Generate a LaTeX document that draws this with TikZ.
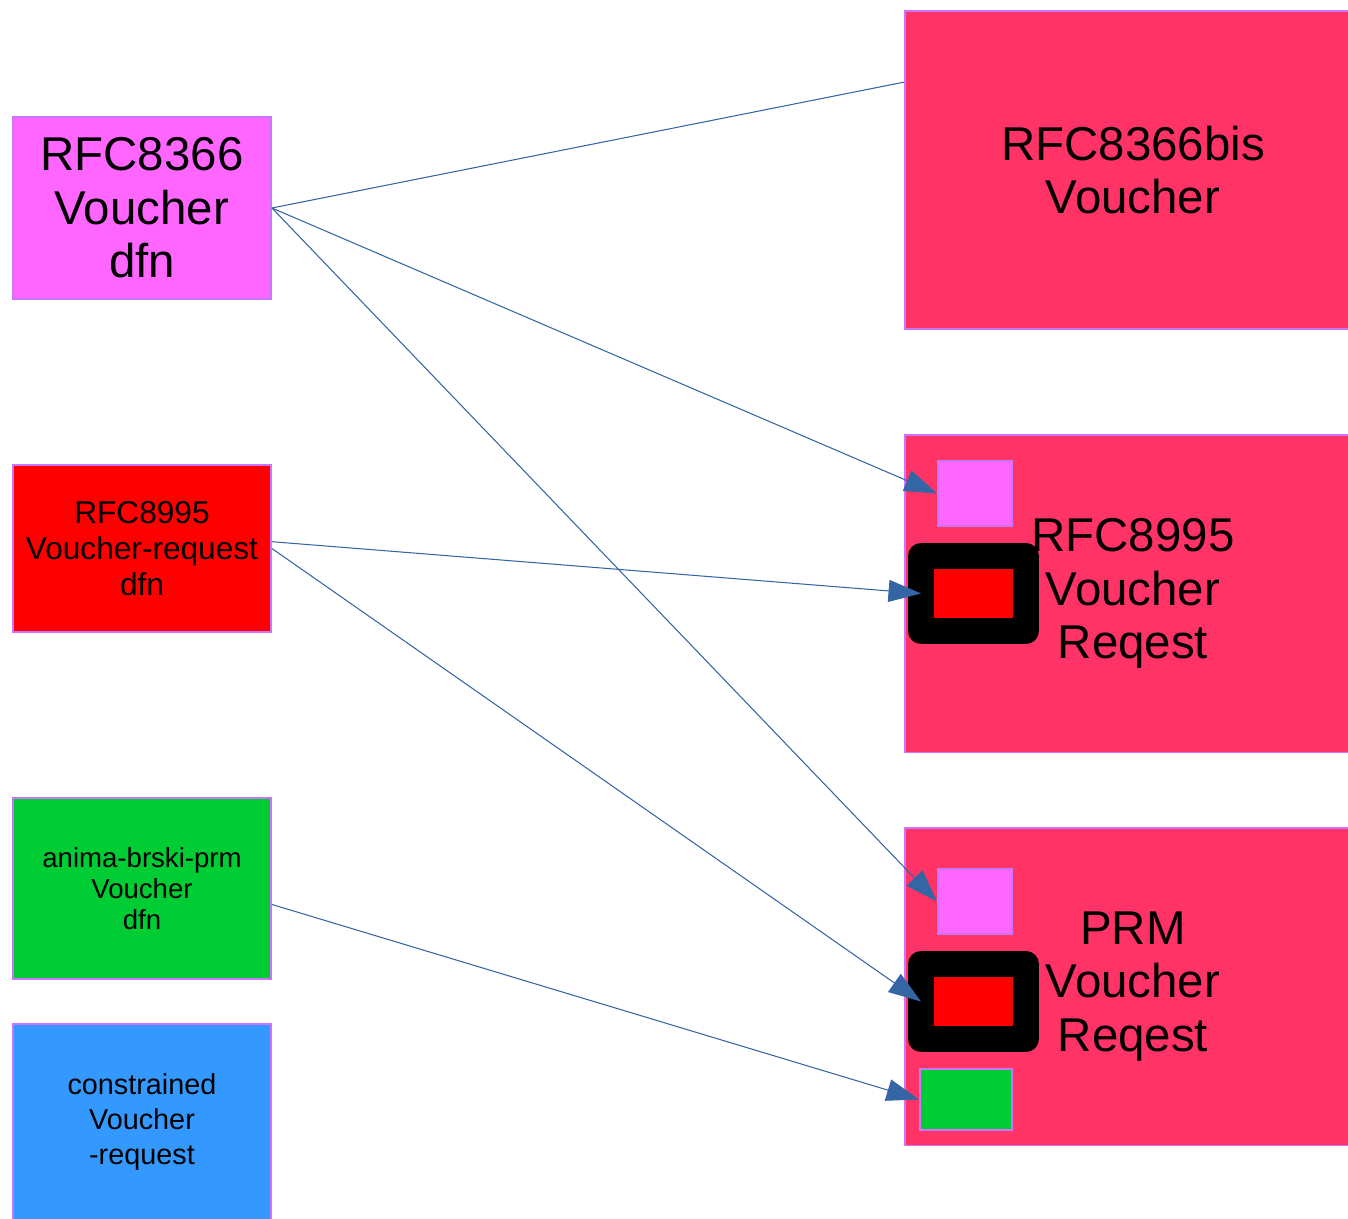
\documentclass[tikz,border=0pt]{standalone}
\usepackage{fontspec}
\setmainfont{Liberation Sans}
\usetikzlibrary{arrows.meta}
\definecolor{vmagenta}{HTML}{FF66FF}
\definecolor{vedge}{HTML}{CC73FF}
\definecolor{vcrimson}{HTML}{FF3366}
\definecolor{vred}{HTML}{FF0000}
\definecolor{vgreen}{HTML}{00CC33}
\definecolor{vblue}{HTML}{3399FF}
\definecolor{vlink}{HTML}{3465A4}

\begin{document}
\begin{tikzpicture}[x=0.02cm,y=-0.02cm,
		box/.style={draw=vedge,line width=1.1pt,align=center,inner sep=0pt},
		dfn/.style={box,minimum width=5.16cm},
		draft/.style={box,fill=vcrimson,minimum width=9.12cm,minimum height=6.36cm,font=\fontsize{27}{30.5}\selectfont},
		chip/.style={box,minimum width=1.48cm,minimum height=1.3cm},
		wrap/.style={draw=black,line width=14.7pt,line join=round,fill=vred,outer sep=0pt,minimum width=2.1cm,minimum height=1.5cm},
		link/.style={draw=vlink,line width=0.6pt},
		ref/.style={link,-{Triangle[length=0.65cm,width=0.44cm]}}]
				\useasboundingbox (0,0) rectangle (1348,1218);
				\node[dfn,fill=vmagenta,minimum height=3.64cm,font=\fontsize{27}{30.5}\selectfont] (A) at (142,208) {RFC8366\\Voucher\\dfn};
				\node[dfn,fill=vred,minimum height=3.34cm,font=\fontsize{18}{20.4}\selectfont] (B) at (142,548.5) {RFC8995\\Voucher-request\\dfn};
				\node[dfn,fill=vgreen,minimum height=3.62cm,font=\fontsize{15.7}{17.6}\selectfont] (C) at (142,888.5) {anima-brski-prm\\Voucher\\dfn};
				\node[dfn,fill=vblue,minimum height=3.92cm,font=\fontsize{16.4}{19.8}\selectfont] (D) at (142,1122) {constrained\\Voucher\\-request};
				\node[draft] (R1) at (1133,170) {RFC8366bis\\Voucher};
				\node[draft] (R2) at (1133,593.5) {RFC8995\\Voucher\\Reqest};
				\node[draft] (R3) at (1133,986.5) {PRM\\Voucher\\Reqest};
				\node[chip,fill=vmagenta] (m2) at (975,493.5) {};
				\node[wrap] (k2) at (973.5,593.5) {};
				\node[chip,fill=vmagenta] (m3) at (975,901.5) {};
				\node[wrap] (k3) at (973.5,1001.5) {};
				\node[box,fill=vgreen,minimum width=1.84cm,minimum height=1.22cm] (g3) at (966,1099.5) {};
				\draw[link] (A.east) -- (R1.159);
				\draw[ref] (A.east) -- (m2.west);
				\draw[ref] (A.east) -- (m3.west);
				\draw[ref] (B.3) -- (k2.west);
				\draw[ref] (B.east) -- (k3.west);
				\draw[ref] (C.-7) -- (g3.west);
\end{tikzpicture}
\end{document}
